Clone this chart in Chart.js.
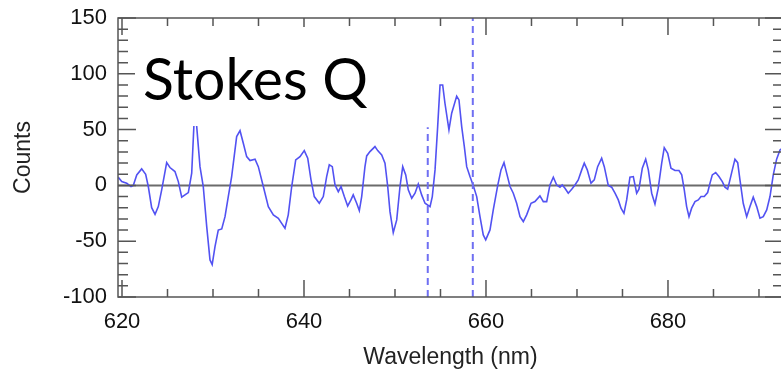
<!DOCTYPE html>
<html>
<head>
<meta charset="utf-8">
<script src="https://cdn.jsdelivr.net/npm/chart.js@4.4.1/dist/chart.umd.min.js"></script>
<style>
  html, body { margin: 0; padding: 0; background: #fff; overflow: hidden; }
  #wrap { width: 800px; height: 369px; }
</style>
</head>
<body>
<div id="wrap"><canvas id="chart" width="800" height="369"></canvas></div>
<script>
// spectrum
const wavelength = [
  619.59, 619.97, 620.52, 620.99, 621.24, 621.62, 622.16, 622.60, 622.89, 623.26,
  623.63, 623.99, 624.36, 624.91, 625.27, 625.82, 626.19, 626.56, 626.92, 627.29,
  627.66, 627.91, 628.05, 628.21, 628.57, 628.93, 629.31, 629.67, 629.91, 630.22,
  630.58, 630.96, 631.32, 631.68, 632.05, 632.60, 632.97, 633.33, 633.70, 634.07,
  634.62, 634.98, 635.53, 636.08, 636.63, 637.18, 637.55, 637.91, 638.27, 638.65,
  639.09, 639.56, 640.03, 640.41, 640.77, 641.13, 641.68, 642.12, 642.49, 642.78,
  643.11, 643.41, 643.77, 644.07, 644.43, 644.80, 645.16, 645.41, 645.79, 646.08,
  646.34, 646.70, 646.89, 647.25, 647.80, 648.10, 648.54, 648.90, 649.20, 649.45,
  649.81, 650.19, 650.55, 650.85, 651.18, 651.46, 651.84, 652.20, 652.56, 652.93,
  653.30, 653.85, 654.10, 654.40, 654.69, 654.95, 655.24, 655.49, 655.93, 656.23,
  656.78, 657.03, 657.33, 657.62, 657.88, 658.24, 658.60, 658.98, 659.34, 659.70,
  659.97, 660.44, 660.80, 661.29, 661.65, 661.98, 662.27, 662.64, 663.00, 663.37,
  663.74, 664.10, 664.47, 664.95, 665.38, 665.93, 666.30, 666.67, 667.03, 667.40,
  667.77, 668.13, 668.38, 668.68, 669.04, 669.42, 669.78, 670.14, 670.52, 670.80,
  671.13, 671.54, 671.90, 672.27, 672.71, 673.00, 673.44, 673.81, 674.18, 674.54,
  674.84, 675.16, 675.46, 675.82, 676.19, 676.56, 676.81, 677.18, 677.55, 677.84,
  678.21, 678.57, 678.93, 679.31, 679.59, 679.97, 680.33, 680.77, 681.21, 681.51,
  681.79, 682.05, 682.31, 682.60, 682.97, 683.33, 683.63, 683.99, 684.36, 684.62,
  684.87, 685.24, 685.60, 685.97, 686.26, 686.56, 686.81, 687.07, 687.36, 687.66,
  687.91, 688.27, 688.65, 689.01, 689.37, 689.75, 690.11, 690.47, 690.85, 691.21,
  691.57, 691.94, 692.31, 692.70
];
const counts = [
  7.3, 3.4, 2, -1, 0, 9.4, 14.8, 10, -1, -20,
  -26, -19, -4, 20.4, 16, 12.4, 3.4, -10.6, -8.5, -6.4,
  11, 55, 72, 52.7, 16.8, -1, -37, -66.8, -71, -54.8,
  -40, -39, -28, -10, 7.9, 43.7, 49, 37.8, 25.8, 22.2,
  23.5, 16.8, -1, -19, -26.4, -29.4, -34, -38.4, -26.4, -1,
  22.8, 25.8, 31.2, 24.4, 5, -10, -16, -10, 7.9, 18.4,
  16.8, 0.4, -5.6, -1, -10, -18.4, -13, -8.5, -16, -22.6,
  -10, 16.8, 26.4, 30.3, 34.8, 31.2, 27.3, 19.9, -1, -23.5,
  -42.3, -30.9, -1, 16.8, 9.4, -4, -11.5, -7, 1.3, -8.5,
  -16, -19, -10, 13.9, 52.7, 90, 90, 73.6, 49.7, 64.7,
  80, 76.6, 52.7, 34.8, 16.8, 7.9, 0, -10, -28, -44.4,
  -48.8, -39.9, -22, 0, 13.9, 20.4, 11, -1, -7, -16,
  -28, -32.4, -26.4, -16, -14.5, -9.4, -14.5, -14.5, 0.4, 7.3,
  0.4, -1.6, 0.4, -2.5, -7, -3.4, 0.4, 4.9, 13.9, 19.9,
  13.9, 2, 4.9, 16.8, 24.4, 16.8, 0, -1.6, -7, -13,
  -20.4, -25, -13, 7.3, 7.9, -7, -3.4, 15.4, 23.5, 13.9,
  -7, -16.6, -2.5, 19.9, 33.8, 28.8, 15.4, 13.3, 13.3, 9.4,
  -4, -19, -28, -20.4, -14.5, -13, -10, -10, -6.4, 2,
  9.4, 11.5, 7.9, 3.4, -1.6, -3.4, 4.9, 13.9, 23.5, 20.4,
  4.9, -16, -28, -19, -10.6, -19, -29.4, -28, -22, -10,
  9.4, 23.5, 31.8, 34
];

// dashed line markers: wavelength and top of the dash (counts)
const markerWl = [653.6, 658.55];
const markerTop = [52, 150];

const xMin = 619.56, xMax = 692.64;
const yMin = -100, yMax = 150;
const xTickValues = [620, 640, 660, 680];

const spectrum = wavelength.map((w, i) => ({ x: w, y: counts[i] }));
const zeroLine = [{ x: xMin, y: 0 }, { x: xMax, y: 0 }];
const markers = markerWl.map((w, i) => ({
  type: 'line',
  data: [{ x: w, y: yMin }, { x: w, y: markerTop[i] }],
  borderColor: '#6f6ff2',
  borderWidth: 2,
  borderDash: [7, 5],
  pointRadius: 0,
  order: 1
}));

// frame with inward ticks on all four sides, plus the "Stokes Q" label box
const framePlugin = {
  id: 'frame',
  afterDatasetsDraw(chart) {
    const { ctx, chartArea: a, scales } = chart;
    const xs = scales.x, ys = scales.y;
    ctx.save();
    ctx.strokeStyle = '#555';
    ctx.lineWidth = 1.5;
    ctx.strokeRect(a.left, a.top, a.right - a.left, a.bottom - a.top);
    ctx.beginPath();
    for (let v = 620; v <= xMax; v += 5) {
      const px = xs.getPixelForValue(v);
      const len = v % 20 === 0 ? 17 : 8;
      ctx.moveTo(px, a.bottom); ctx.lineTo(px, a.bottom - len);
      ctx.moveTo(px, a.top); ctx.lineTo(px, a.top + len);
    }
    for (let v = yMin; v <= yMax; v += 10) {
      const py = ys.getPixelForValue(v);
      const len = v % 50 === 0 ? 18 : 10;
      ctx.moveTo(a.left, py); ctx.lineTo(a.left + len, py);
      ctx.moveTo(a.right, py); ctx.lineTo(a.right - len, py);
    }
    ctx.stroke();

    // white label box that hides part of the line, as in the original
    ctx.fillStyle = '#fff';
    ctx.fillRect(135, 27, 265, 99);
    ctx.fillStyle = '#000';
    ctx.font = '58px Lato';
    const w = ctx.measureText('Stokes Q').width;
    ctx.translate(143, 100);
    ctx.scale(225 / w, 1);
    ctx.textBaseline = 'alphabetic';
    ctx.fillText('Stokes Q', 0, 0);
    ctx.restore();
  }
};

const tickFont = { family: 'Liberation Sans', size: 22 };
const titleFont = { family: 'Liberation Sans', size: 23 };

new Chart(document.getElementById('chart'), {
  type: 'line',
  data: {
    datasets: [
      {
        data: zeroLine,
        borderColor: '#6b6b6b',
        borderWidth: 2,
        pointRadius: 0,
        order: 3
      },
      {
        data: spectrum,
        borderColor: '#5252f2',
        borderWidth: 1.6,
        pointRadius: 0,
        tension: 0,
        order: 2
      },
      ...markers
    ]
  },
  options: {
    responsive: false,
    animation: false,
    layout: { padding: { top: 18, right: 17, left: 0, bottom: 0 } },
    plugins: { legend: { display: false }, tooltip: { enabled: false } },
    scales: {
      x: {
        type: 'linear',
        min: xMin,
        max: xMax,
        grid: { display: false },
        border: { display: false },
        afterFit: s => { s.height = 72; },
        afterBuildTicks: s => { s.ticks = xTickValues.map(v => ({ value: v })); },
        ticks: { font: tickFont, color: '#111', padding: 4, maxRotation: 0 },
        title: {
          display: true,
          text: 'Wavelength (nm)',
          font: titleFont,
          color: '#222',
          padding: { top: -2, bottom: -2 }
        }
      },
      y: {
        min: yMin,
        max: yMax,
        grid: { display: false },
        border: { display: false },
        afterFit: s => { s.width = 118; },
        ticks: { font: tickFont, color: '#111', padding: 3, stepSize: 50 },
        title: {
          display: true,
          text: 'Counts',
          font: titleFont,
          color: '#222',
          padding: { top: 10, bottom: 0 }
        }
      }
    }
  },
  plugins: [framePlugin]
});
</script>
</body>
</html>
